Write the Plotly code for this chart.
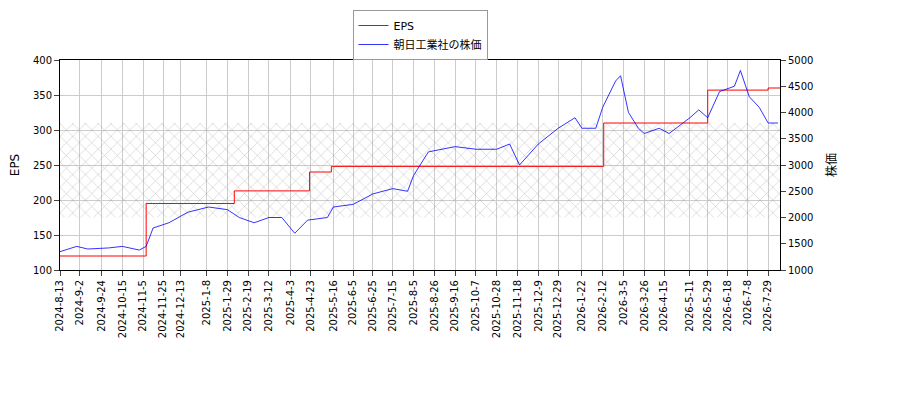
import plotly.graph_objects as go

eps_dates = ["2024-08-13","2024-11-08","2025-02-05","2025-04-22","2025-05-14","2026-02-13","2026-05-29","2026-07-29","2026-08-10"]
eps_vals = [120,195,213,240,248,310,357,360,360]

px_dates = ["2024-08-13","2024-08-30","2024-09-10","2024-10-01","2024-10-15","2024-11-01","2024-11-08","2024-11-15","2024-12-01",
"2024-12-20","2025-01-10","2025-01-29","2025-02-10","2025-02-25","2025-03-12","2025-03-25","2025-04-07","2025-04-20","2025-05-10",
"2025-05-16","2025-06-05","2025-06-25","2025-07-15","2025-07-30","2025-08-05","2025-08-20","2025-09-16","2025-10-07","2025-10-28",
"2025-11-10","2025-11-20","2025-12-09","2025-12-29","2026-01-15","2026-01-22","2026-02-05","2026-02-12","2026-02-25","2026-03-02",
"2026-03-10","2026-03-20","2026-03-26","2026-04-10","2026-04-20","2026-05-11","2026-05-20","2026-05-29","2026-06-10","2026-06-25",
"2026-07-01","2026-07-10","2026-07-20","2026-07-29","2026-08-08"]
px_vals = [1350,1450,1400,1420,1450,1380,1450,1800,1900,2100,2200,2150,2000,1900,2000,2000,1700,1950,2000,2200,2250,2450,2550,
2500,2800,3250,3350,3300,3300,3400,3000,3400,3700,3900,3700,3700,4100,4600,4700,4000,3700,3600,3700,3600,3900,4050,3900,4400,
4500,4800,4300,4100,3800,3800]

tick_dates = ["2024-08-13","2024-09-02","2024-09-24","2024-10-15","2024-11-05","2024-11-25","2024-12-13","2025-01-08","2025-01-29",
"2025-02-19","2025-03-12","2025-04-03","2025-04-23","2025-05-16","2025-06-05","2025-06-25","2025-07-15","2025-08-05","2025-08-26",
"2025-09-16","2025-10-07","2025-10-28","2025-11-18","2025-12-09","2025-12-29","2026-01-22","2026-02-12","2026-03-05","2026-03-26",
"2026-04-15","2026-05-11","2026-05-29","2026-06-18","2026-07-08","2026-07-29"]
tick_text = [f"{d[:4]}-{int(d[5:7])}-{int(d[8:])}" for d in tick_dates]

x0, x1 = "2024-08-13", "2026-08-10"
fig = go.Figure()
fig.add_trace(go.Scatter(x=eps_dates, y=eps_vals, mode="lines", line=dict(color="red", width=1, shape="hv"), name="EPS"))
fig.add_trace(go.Scatter(x=px_dates, y=px_vals, mode="lines", line=dict(color="blue", width=0.8), name="朝日工業社の株価", yaxis="y2"))
fig.add_trace(go.Scatter(x=[x0,x1,x1,x0,x0], y=[175,175,310,310,175], fill="toself", mode="none",
    fillcolor="rgba(0,0,0,0)", fillpattern=dict(shape="x", fgcolor="#888888", size=9, solidity=0.12),
    showlegend=False, hoverinfo="skip"))

fnt = "DejaVu Sans, Noto Sans CJK JP"
fig.update_layout(
    width=900, height=400, margin=dict(l=52, r=128, t=52, b=138),
    paper_bgcolor="white", plot_bgcolor="white", font=dict(family=fnt, size=10, color="black"),
    legend=dict(x=0.5, xanchor="center", yref="container", y=0.995, yanchor="top", bordercolor="#999", borderwidth=1,
                bgcolor="white", font=dict(size=11), tracegroupgap=0),
    xaxis=dict(range=[x0, x1], tickvals=tick_dates, ticktext=tick_text, tickangle=-90, showgrid=True, gridcolor="#cccccc",
               showline=True, linecolor="black", mirror=True, ticks="outside", automargin=False),
    yaxis=dict(title="EPS", range=[100, 400], dtick=50, showgrid=True, gridcolor="#cccccc", showline=True, linecolor="black",
               ticks="outside", automargin=False),
    yaxis2=dict(title="株価", overlaying="y", side="right", range=[1000, 5000], dtick=500, showgrid=False, showline=True,
                linecolor="black", ticks="outside", automargin=False),
)
fig.write_html("out.html")
